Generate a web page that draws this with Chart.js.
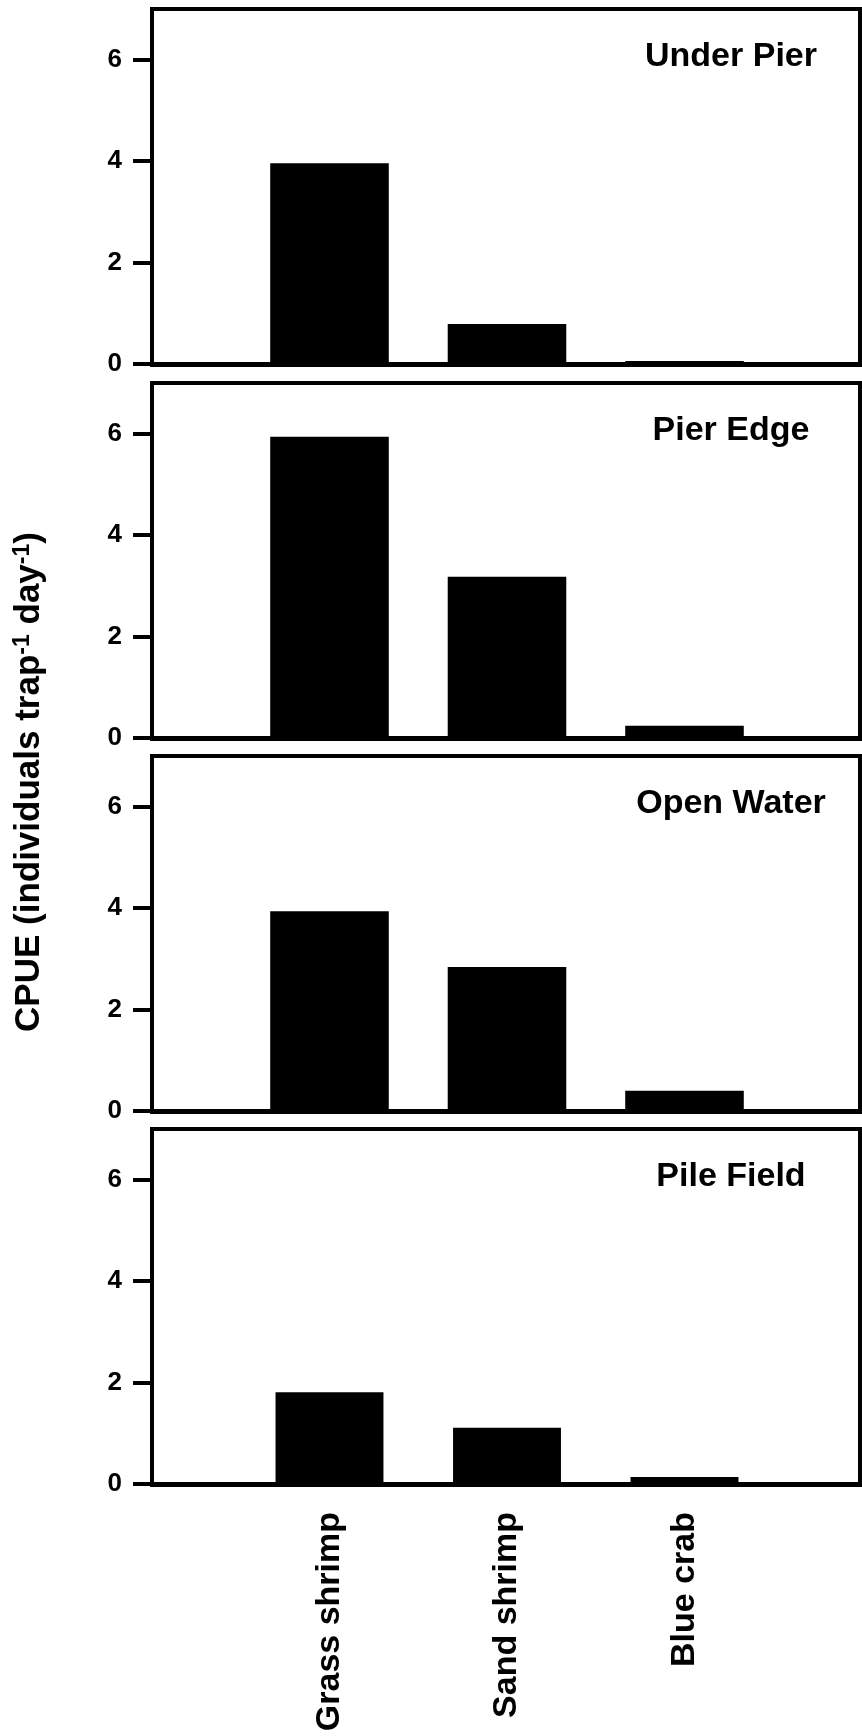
<!DOCTYPE html>
<html>
<head>
<meta charset="utf-8">
<script src="https://cdn.jsdelivr.net/npm/chart.js@4/dist/chart.umd.min.js"></script>
<style>
  body { margin: 0; background: #fff; }
  #wrap { position: relative; width: 862px; height: 1736px; overflow: hidden; background: #fff; }
  canvas { position: absolute; left: 0; }
  #ytitle {
    position: absolute; left: 7px; top: 1082px; width: 600px; height: 35px;
    line-height: 35px; text-align: center; white-space: nowrap;
    font: bold 35px 'Liberation Sans', Arial, sans-serif; color: #000;
    transform-origin: 0 0; transform: rotate(-90deg);
  }
  #ytitle span { font-size: 23px; position: relative; top: -10px; }
</style>
</head>
<body>
<div id="wrap">
  <canvas id="p1" width="862" height="415" style="top:-21px"></canvas>
  <canvas id="p2" width="862" height="415" style="top:353px"></canvas>
  <canvas id="p3" width="862" height="415" style="top:726px"></canvas>
  <canvas id="p4" width="862" height="637" style="top:1099px"></canvas>
  <div id="ytitle">CPUE (individuals trap<span>-1</span> day<span>-1</span>)</div>
</div>
<script>
// categories and values per site (CPUE, individuals per trap per day)
const categories = ['Grass shrimp', 'Sand shrimp', 'Blue crab'];
const sites = ['Under Pier', 'Pier Edge', 'Open Water', 'Pile Field'];
const underPier = [3.96, 0.79, 0.06];
const pierEdge = [5.94, 3.18, 0.24];
const openWater = [3.94, 2.84, 0.40];
const pileField = [1.81, 1.11, 0.14];
const yTicks = [0, 2, 4, 6];
const yMax = 7;

const FONT = "'Liberation Sans', Arial, sans-serif";

// empty slot on each side so bars sit at 1, 2, 3 on a 0..4 axis
const labels = ['', ...categories, ''];

const panelBox = {
  id: 'panelBox',
  afterDraw(chart, args, opts) {
    const { ctx, chartArea: a } = chart;
    ctx.save();
    ctx.strokeStyle = '#000';
    ctx.lineWidth = 4;
    ctx.beginPath();
    ctx.moveTo(a.left - 2, a.top);
    ctx.lineTo(a.right, a.top);
    ctx.moveTo(a.right - 2, a.top - 2);
    ctx.lineTo(a.right - 2, a.bottom);
    ctx.stroke();
    ctx.fillStyle = '#000';
    ctx.font = 'bold 34px ' + FONT;
    ctx.textAlign = 'center';
    ctx.textBaseline = 'alphabetic';
    ctx.fillText(opts.text, a.left + 0.8155 * (a.right - a.left), a.top + 57);
    ctx.restore();
  }
};

function makePanel(id, title, values, isLast) {
  const ctx = document.getElementById(id).getContext('2d');
  new Chart(ctx, {
    type: 'bar',
    data: {
      labels: labels,
      datasets: [{
        data: [null, ...values, null],
        backgroundColor: '#000',
        borderWidth: 0,
        categoryPercentage: 1,
        barPercentage: isLast ? 0.608 : 0.668
      }]
    },
    options: {
      responsive: false,
      animation: false,
      events: [],
      layout: { padding: { top: 30, bottom: isLast ? 0 : 30, left: 0, right: 0 } },
      plugins: {
        legend: { display: false },
        tooltip: { enabled: false },
        panelBox: { text: title }
      },
      scales: {
        x: {
          type: 'category',
          offset: false,
          grid: {
            display: true,
            drawOnChartArea: false,
            drawTicks: isLast,
            tickLength: 28,
            tickColor: 'rgba(0,0,0,0)'
          },
          border: { display: true, width: 5, color: '#000' },
          ticks: {
            display: isLast,
            autoSkip: false,
            minRotation: 90,
            maxRotation: 90,
            padding: 0,
            color: '#000',
            font: { family: FONT, size: 34, weight: 'bold' },
            callback: (v, i) => labels[i] || null
          },
          afterFit: s => { s.height = isLast ? 252 : 0; }
        },
        y: {
          min: 0,
          max: yMax,
          afterBuildTicks: s => { s.ticks = yTicks.map(v => ({ value: v })); },
          grid: {
            drawOnChartArea: false,
            drawTicks: true,
            tickLength: 19,
            tickWidth: 4,
            lineWidth: 4,
            color: '#000'
          },
          border: { display: true, width: 4, color: '#000' },
          ticks: {
            padding: 11,
            color: '#000',
            font: { family: FONT, size: 26, weight: 'bold' }
          },
          afterFit: s => { s.width = 152; }
        }
      }
    },
    plugins: [panelBox]
  });
}

makePanel('p1', sites[0], underPier, false);
makePanel('p2', sites[1], pierEdge, false);
makePanel('p3', sites[2], openWater, false);
makePanel('p4', sites[3], pileField, true);
</script>
</body>
</html>
